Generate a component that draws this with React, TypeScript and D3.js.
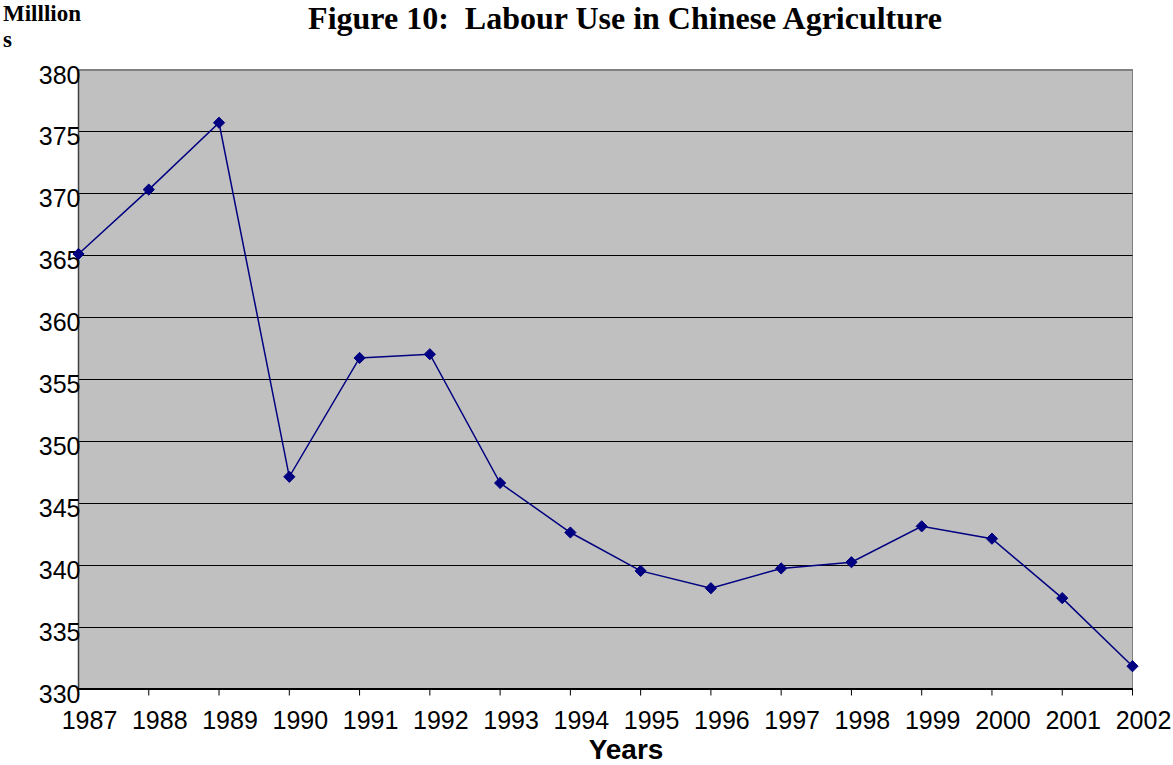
import React from "react";
import * as d3 from "d3";

const years: string[] = [
  "1987", "1988", "1989", "1990", "1991", "1992", "1993", "1994",
  "1995", "1996", "1997", "1998", "1999", "2000", "2001", "2002",
];

// Agricultural labour force, millions of persons
const labour: number[] = [
  365.1, 370.3, 375.7, 347.1, 356.7, 357.0, 346.6, 342.6,
  339.5, 338.1, 339.7, 340.2, 343.1, 342.1, 337.3, 331.8,
];

const yTicks: number[] = [330, 335, 340, 345, 350, 355, 360, 365, 370, 375, 380];

const W = 1173;
const H = 765;
const left = 78.5;
const right = 1132.5;
const top = 69.5;
const bottom = 688.5;

export default function App() {
  const x = d3
    .scalePoint<string>()
    .domain(years)
    .range([left, right]);
  const y = d3.scaleLinear().domain([330, 380]).range([bottom, top]);

  const line = d3
    .line<number>()
    .x((_, i) => x(years[i]) as number)
    .y((d) => y(d));

  const diamond = d3.symbol().type(d3.symbolDiamond2).size(80)() as string;

  const arial = "Arial, 'Liberation Sans', sans-serif";
  const times = "'Times New Roman', 'Liberation Serif', serif";

  return (
    <div style={{ position: "absolute", left: 0, top: 0 }}>
      <svg width={W} height={H} style={{ display: "block" }}>
        <rect x={0} y={0} width={W} height={H} fill="#ffffff" />
        <rect
          x={left}
          y={top}
          width={right - left}
          height={bottom - top}
          fill="#c0c0c0"
          stroke="#808080"
          strokeWidth={1}
        />
        {yTicks.map((t) => (
          <line
            key={"g" + t}
            x1={left}
            x2={right}
            y1={Math.round(y(t)) + 0.5}
            y2={Math.round(y(t)) + 0.5}
            stroke={t === 380 ? "#808080" : "#000000"}
            strokeWidth={1}
          />
        ))}
        <line x1={left} x2={left} y1={top} y2={bottom} stroke="#404040" strokeWidth={1.5} />
        <line x1={left} x2={right} y1={bottom} y2={bottom} stroke="#000000" strokeWidth={1} />
        {years.map((yr) => (
          <line
            key={"t" + yr}
            x1={(x(yr) as number)}
            x2={(x(yr) as number)}
            y1={bottom}
            y2={bottom + 7}
            stroke="#000000"
            strokeWidth={1}
          />
        ))}
        {yTicks.map((t) => (
          <text
            key={"l" + t}
            x={left + 2}
            y={y(t) + 14}
            textAnchor="end"
            fontFamily={arial}
            fontSize={25}
            fill="#000000"
          >
            {t}
          </text>
        ))}
        {years.map((yr) => (
          <text
            key={"x" + yr}
            x={(x(yr) as number) + 11}
            y={729}
            textAnchor="middle"
            fontFamily={arial}
            fontSize={25}
            fill="#000000"
          >
            {yr}
          </text>
        ))}
        <path d={line(labour) as string} fill="none" stroke="#000080" strokeWidth={1.5} />
        {labour.map((v, i) => (
          <path
            key={"m" + i}
            d={diamond}
            transform={`translate(${x(years[i])},${y(v)})`}
            fill="#000080"
            stroke="#000080"
            strokeWidth={1}
          />
        ))}
        <text
          x={625}
          y={29}
          textAnchor="middle"
          fontFamily={times}
          fontWeight="bold"
          fontSize={32}
          fill="#000000"
        >
          Figure 10:{"\u00a0\u00a0"}Labour Use in Chinese Agriculture
        </text>
        <text x={3} y={21} fontFamily={times} fontWeight="bold" fontSize={23} fill="#000000">
          Milllion
        </text>
        <text x={3} y={47} fontFamily={times} fontWeight="bold" fontSize={23} fill="#000000">
          s
        </text>
        <text
          x={626}
          y={759}
          textAnchor="middle"
          fontFamily={arial}
          fontWeight="bold"
          fontSize={28}
          fill="#000000"
        >
          Years
        </text>
      </svg>
    </div>
  );
}
